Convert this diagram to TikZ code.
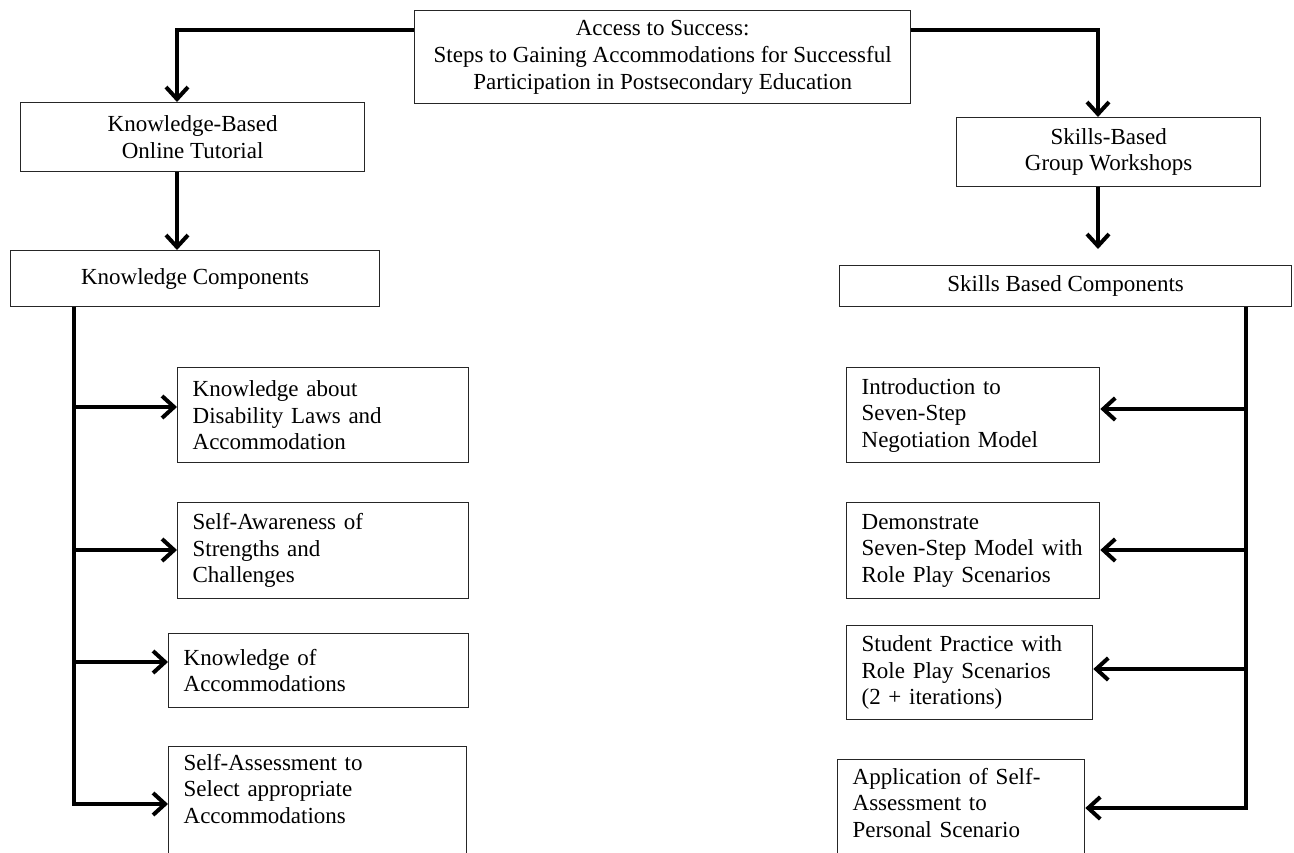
\documentclass[tikz,border=0pt]{standalone}
\usepackage{fontspec}
\setmainfont{Liberation Serif}
\usetikzlibrary{arrows.meta,calc}
\begin{document}
\begin{tikzpicture}[x=1pt,y=-1pt,
  box/.style={draw=black!85, line width=1.3pt, inner sep=0pt, font=\fontsize{23}{26.5}\selectfont},
  cbox/.style={box, anchor=north west, align=center},
  lbox/.style={box, anchor=north west, align=left, inner xsep=15pt},
  conn/.style={line width=4pt, -{Straight Barb[length=12pt,width=22pt]}},
  trunk/.style={line width=4pt}]
\path[use as bounding box] (0,0) rectangle (1294,852);
\clip (0,0) rectangle (1294,852);

% top level
\node[cbox, minimum width=496pt, minimum height=93pt, font=\fontsize{23}{27}\selectfont] (title) at (414,10)
  {Access to Success:\\Steps to Gaining Accommodations for Successful\\Participation in Postsecondary Education};
\node[cbox, minimum width=344pt, minimum height=69pt] (kb) at (20,102) {Knowledge-Based\\Online Tutorial};
\node[cbox, minimum width=369pt, minimum height=56pt] (kc) at (10,250) {Knowledge Components};
\node[cbox, minimum width=304pt, minimum height=69pt] (sb) at (956,117) {Skills-Based\\Group Workshops};
\node[cbox, minimum width=452pt, minimum height=41pt] (sbc) at (839,265) {Skills Based Components};

% left components
\node[lbox, text width=261pt, minimum height=95pt] (l1) at (177,367) {Knowledge about\\Disability Laws and\\Accommodation};
\node[lbox, text width=261pt, minimum height=96pt] (l2) at (177,502) {Self-Awareness of\\Strengths and\\Challenges};
\node[lbox, text width=270pt, minimum height=74pt] (l3) at (168,633) {Knowledge of\\Accommodations};
\node[lbox, text width=268pt, minimum height=118pt] (l4) at (168,746) {Self-Assessment to\\Select appropriate\\Accommodations\\\strut};

% right components
\node[lbox, text width=223pt, minimum height=95pt] (r1) at (846,367) {Introduction to\\Seven-Step\\Negotiation Model};
\node[lbox, text width=223pt, minimum height=96pt] (r2) at (846,502) {Demonstrate\\Seven-Step Model with\\Role Play Scenarios};
\node[lbox, text width=216pt, minimum height=94pt] (r3) at (846,625) {Student Practice with\\Role Play Scenarios\\(2 + iterations)};
\node[lbox, text width=217pt, minimum height=120pt] (r4) at (837,759) {Application of Self-\\Assessment to\\Personal Scenario\\\strut};

% helper coordinates
\coordinate (xl) at (177,0);
\coordinate (xr) at (1098,0);
\coordinate (tl1) at (74,407);
\coordinate (tl2) at (74,550);
\coordinate (tl3) at (74,662);
\coordinate (tl4) at (74,804);
\coordinate (tr1) at (1246,409);
\coordinate (tr2) at (1246,550);
\coordinate (tr3) at (1246,669);
\coordinate (tr4) at (1246,808);

% top connectors
\draw[conn] ($(title.north west)+(0,20)$) -| (kb.north -| xl);
\draw[conn] (kb.south -| xl) -- (kc.north -| xl);
\draw[conn] ($(title.north east)+(0,20)$) -| (sb.north -| xr);
\draw[conn, shorten >=16pt] (sb.south -| xr) -- (sbc.north -| xr);

% left trunk and branches
\draw[conn] (kc.south -| tl4) |- (tl4 -| l4.west);
\draw[conn] (tl1) -- (tl1 -| l1.west);
\draw[conn] (tl2) -- (tl2 -| l2.west);
\draw[conn] (tl3) -- (tl3 -| l3.west);

% right trunk and branches
\draw[conn] (sbc.south -| tr4) |- (tr4 -| r4.east);
\draw[conn] (tr1) -- (tr1 -| r1.east);
\draw[conn] (tr2) -- (tr2 -| r2.east);
\draw[conn] (tr3) -- (tr3 -| r3.east);
\end{tikzpicture}
\end{document}
